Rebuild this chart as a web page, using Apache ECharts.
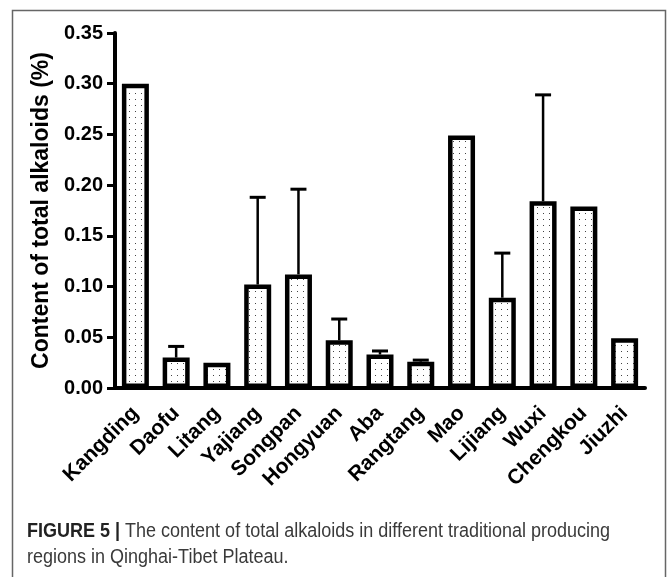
<!DOCTYPE html>
<html>
<head>
<meta charset="utf-8">
<script src="https://cdn.jsdelivr.net/npm/echarts@6/dist/echarts.min.js"></script>
<style>
  html, body { margin: 0; padding: 0; background: #fff; }
  #main { width: 667px; height: 577px; }
</style>
</head>
<body>
<div id="main"></div>
<script>
// regions along the x axis
var regions = ['Kangding', 'Daofu', 'Litang', 'Yajiang', 'Songpan', 'Hongyuan', 'Aba',
  'Rangtang', 'Mao', 'Lijiang', 'Wuxi', 'Chengkou', 'Jiuzhi'];
// mean content of total alkaloids (%)
var meanValues = [0.300, 0.030, 0.025, 0.102, 0.112, 0.047, 0.033, 0.026, 0.249, 0.089, 0.184, 0.179, 0.049];
// upper end of the error bar (mean + SD), null where none is drawn
var upperValues = [null, 0.041, null, 0.188, 0.196, 0.068, 0.0365, 0.0275, null, 0.133, 0.289, null, null];

// dotted fill like the original bars
function dotPattern() {
  var c = document.createElement('canvas');
  c.width = 6; c.height = 6;
  var ctx = c.getContext('2d');
  ctx.fillStyle = '#fff';
  ctx.fillRect(0, 0, 6, 6);
  ctx.fillStyle = '#444';
  ctx.fillRect(3, 3, 1, 1);
  return c;
}

var errData = [];
for (var i = 0; i < regions.length; i++) {
  if (upperValues[i] != null) errData.push([i, meanValues[i], upperValues[i]]);
}

var captionFont = 'Liberation Sans, Arial';

var myChart = echarts.init(document.getElementById('main'));
var option = {
  animation: false,
  grid: { left: 115, right: 22, top: 33, bottom: 189 },
  xAxis: {
    type: 'category',
    data: regions,
    axisLine: { lineStyle: { color: '#000', width: 4 } },
    axisTick: { alignWithLabel: true, length: 8, lineStyle: { color: '#000', width: 3 } },
    axisLabel: {
      rotate: 45, margin: 22, color: '#000',
      fontFamily: 'Liberation Sans, Arial', fontWeight: 'bold', fontSize: 21
    }
  },
  yAxis: {
    type: 'value',
    min: 0, max: 0.35, interval: 0.05,
    name: 'Content of total alkaloids (%)',
    nameLocation: 'middle',
    nameGap: 59,
    nameTextStyle: { color: '#000', fontFamily: 'Liberation Sans, Arial', fontWeight: 'bold', fontSize: 23 },
    splitLine: { show: false },
    axisLine: { show: true, lineStyle: { color: '#000', width: 4 } },
    axisTick: { show: true, length: 8, lineStyle: { color: '#000', width: 3 } },
    axisLabel: {
      margin: 12, color: '#000',
      fontFamily: 'Liberation Sans, Arial', fontWeight: 'bold', fontSize: 20,
      formatter: function (v) { return v.toFixed(2); }
    }
  },
  graphic: [
    {
      type: 'rect', silent: true, z: -1,
      shape: { x: 12.5, y: 10.5, width: 653, height: 600 },
      style: { fill: 'none', stroke: '#666', lineWidth: 1.5 }
    },
    {
      type: 'text', x: 27, y: 521, scaleX: 0.9,
      style: {
        text: '{b|FIGURE 5 |} The content of total alkaloids in different traditional producing',
        fill: '#3a3a3a', fontSize: 20, fontFamily: captionFont,
        rich: { b: { fontWeight: 'bold', fill: '#222', fontSize: 20, fontFamily: captionFont } }
      }
    },
    {
      type: 'text', x: 27, y: 547, scaleX: 0.9,
      style: {
        text: 'regions in Qinghai-Tibet Plateau.',
        fill: '#3a3a3a', fontSize: 20, fontFamily: captionFont
      }
    }
  ],
  series: [
    {
      type: 'bar',
      data: meanValues,
      barWidth: 27,
      itemStyle: {
        color: { image: dotPattern(), repeat: 'repeat' },
        borderColor: '#000',
        borderWidth: 4.5
      },
      z: 2
    },
    {
      type: 'custom',
      data: errData,
      z: 3,
      renderItem: function (params, api) {
        var lo = api.coord([api.value(0), api.value(1)]);
        var hi = api.coord([api.value(0), api.value(2)]);
        var half = 8;
        return {
          type: 'group',
          children: [
            { type: 'line', shape: { x1: lo[0], y1: lo[1], x2: hi[0], y2: hi[1] },
              style: { stroke: '#000', lineWidth: 2.5 } },
            { type: 'line', shape: { x1: hi[0] - half, y1: hi[1], x2: hi[0] + half, y2: hi[1] },
              style: { stroke: '#000', lineWidth: 3 } }
          ]
        };
      }
    }
  ]
};
myChart.setOption(option);
</script>
</body>
</html>
